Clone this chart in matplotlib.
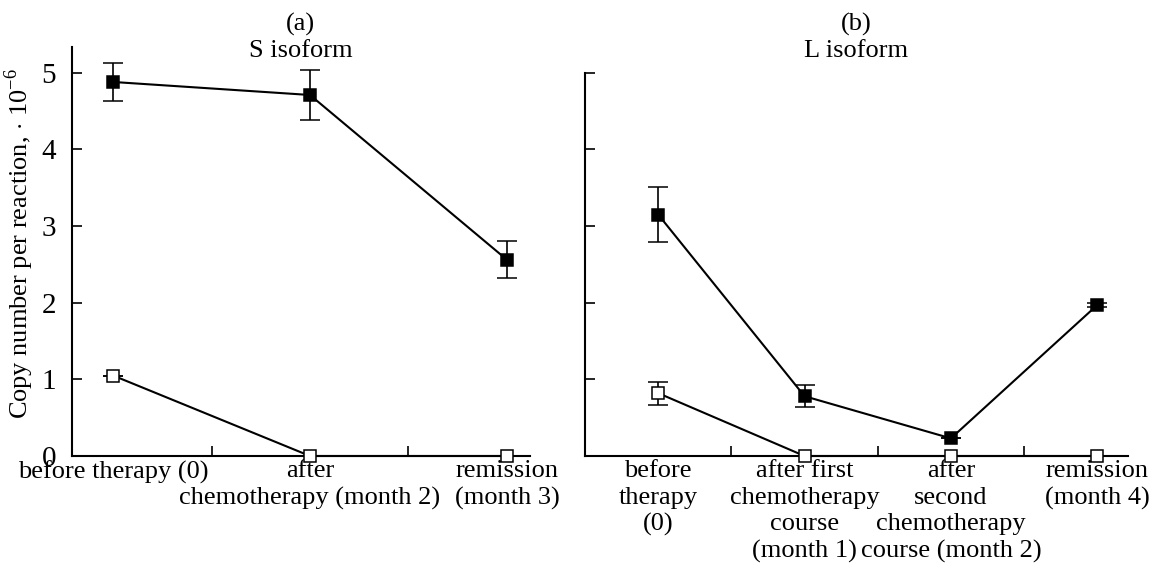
import matplotlib
matplotlib.use("Agg")
import matplotlib.pyplot as plt

plt.rcParams['font.family'] = ['Liberation Serif', 'DejaVu Serif']
plt.rcParams['mathtext.fontset'] = 'custom'
plt.rcParams['mathtext.rm'] = 'Liberation Serif'

# ---- data ----
s_labels = ["before therapy (0)", "after\nchemotherapy (month 2)", "remission\n(month 3)"]
s_filled = [4.88, 4.71, 2.56]
s_filled_err = [0.25, 0.32, 0.24]
s_open = [1.05, 0.0, 0.0]
s_open_err = [0.0, 0.0, 0.0]

l_labels = ["before\ntherapy\n(0)", "after first\nchemotherapy\ncourse\n(month 1)",
            "after\nsecond\nchemotherapy\ncourse (month 2)", "remission\n(month 4)"]
l_filled = [3.15, 0.78, 0.23, 1.97]
l_filled_err = [0.36, 0.14, 0.0, 0.03]
l_open = [0.82, 0.0, 0.0, 0.0]
l_open_err = [0.15, 0.0, 0.0, 0.0]

yticks = [0, 1, 2, 3, 4, 5]

W, H = 1151, 563
fig = plt.figure(figsize=(W / 100, H / 100), dpi=100)

def px_rect(x0, x1, ytop, ybot):
    return [x0 / W, (H - ybot) / H, (x1 - x0) / W, (ybot - ytop) / H]

axL = fig.add_axes(px_rect(71.5, 530, 46.7, 456))
axR = fig.add_axes(px_rect(585, 1128, 46.7, 456))

FS = 19

def draw(ax, labels, filled, ferr, opn, oerr, xlim, top_spine, show_ylab):
    x = list(range(len(labels)))
    common = dict(color='black', lw=1.5, capsize=7, elinewidth=1.2, capthick=1.2,
                  marker='s', markersize=9, markeredgewidth=1.1, clip_on=False)
    ax.errorbar(x, opn, yerr=oerr, markerfacecolor='white', markeredgecolor='black',
                zorder=4, **common)
    ax.errorbar(x, filled, yerr=ferr, markerfacecolor='black', markeredgecolor='black',
                zorder=5, **common)
    ax.set_xlim(*xlim)
    ax.set_ylim(0, 5.34)
    for s in ['top', 'right']:
        ax.spines[s].set_visible(False)
    for s in ['left', 'bottom']:
        ax.spines[s].set_linewidth(1.5)
    ax.spines['left'].set_bounds(0, top_spine)
    ax.set_yticks(yticks)
    if show_ylab:
        ax.set_yticklabels([str(v) for v in yticks])
    else:
        ax.set_yticklabels([])
    ax.set_xticks(x)
    ax.set_xticklabels(labels, fontsize=FS, linespacing=1.26, multialignment='center')
    ax.set_xticks([i + 0.5 for i in x[:-1]], minor=True)
    ax.tick_params(axis='x', which='major', length=0, pad=3)
    ax.tick_params(axis='x', which='minor', direction='in', length=7, width=1.2)
    ax.tick_params(axis='y', direction='in', length=7, width=1.2, labelsize=21, pad=11)

draw(axL, s_labels, s_filled, s_filled_err, s_open, s_open_err, (-0.211, 2.117), 5.34, True)
draw(axR, l_labels, l_filled, l_filled_err, l_open, l_open_err, (-0.5, 3.21), 5.0, False)

axL.set_ylabel(r"Copy number per reaction, $\cdot$ 10$^{\mathregular{-6}}$", fontsize=FS)
axL.yaxis.set_label_coords(-0.078, 0.52)

def ytxt(ypx):
    return (456 - ypx) / (456 - 46.7)

for ax, a, b in [(axL, "(a)", "S isoform"), (axR, "(b)", "L isoform")]:
    ax.text(0.5, ytxt(31), a, transform=ax.transAxes, ha='center', va='baseline', fontsize=FS)
    ax.text(0.5, ytxt(56.5), b, transform=ax.transAxes, ha='center', va='baseline', fontsize=FS)

fig.savefig("out.png", dpi=100)
